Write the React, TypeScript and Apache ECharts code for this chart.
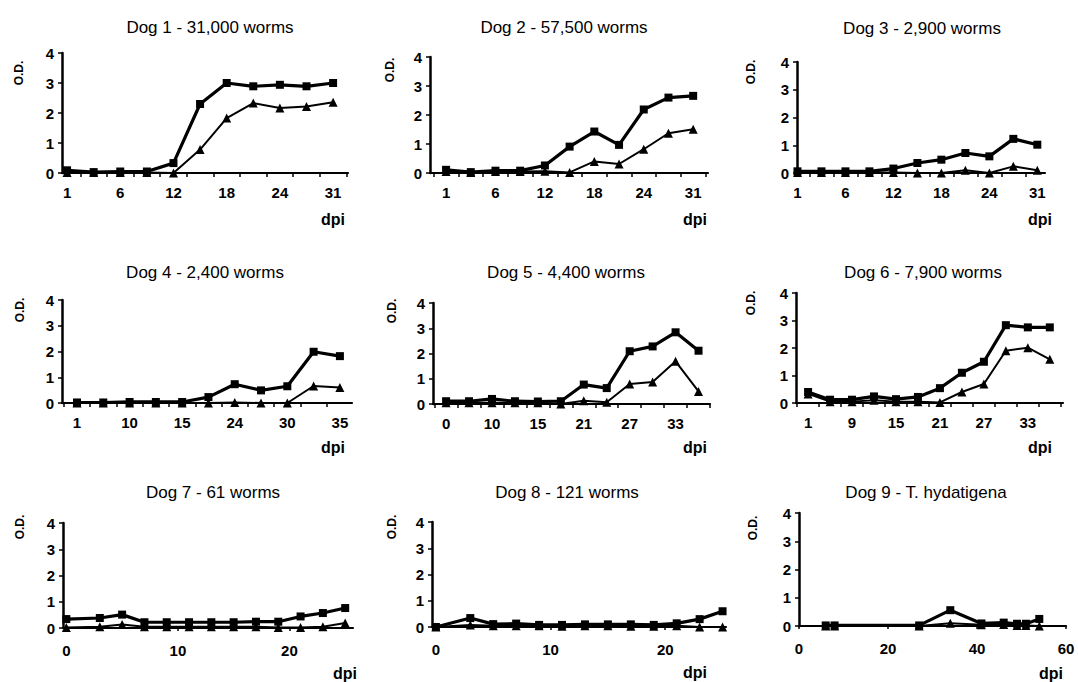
import React, { useEffect, useRef } from "react";
import * as echarts from "echarts";

// ---------- data ----------
const titles = [
  "Dog 1 - 31,000 worms",
  "Dog 2 - 57,500 worms",
  "Dog 3 - 2,900 worms",
  "Dog 4 - 2,400 worms",
  "Dog 5 - 4,400 worms",
  "Dog 6 - 7,900 worms",
  "Dog 7 - 61 worms",
  "Dog 8 - 121 worms",
  "Dog 9 - T. hydatigena",
];

// rows 1-2: sampling days (evenly spaced categories, every other one labelled)
const dog1Days = [1, 3, 6, 9, 12, 15, 18, 21, 24, 28, 31];
const dog1Square = [0.09, 0.03, 0.05, 0.05, 0.33, 2.3, 3.0, 2.89, 2.94, 2.89, 3.0];
const dog1Triangle = [0.02, 0.02, 0.02, 0.02, 0.0, 0.78, 1.83, 2.33, 2.17, 2.22, 2.36];

const dog2Days = [1, 3, 6, 9, 12, 15, 18, 21, 24, 28, 31];
const dog2Square = [0.11, 0.03, 0.08, 0.08, 0.26, 0.91, 1.43, 0.97, 2.19, 2.6, 2.66];
const dog2Triangle = [0.05, 0.02, 0.05, 0.05, 0.06, 0.02, 0.4, 0.31, 0.82, 1.37, 1.51];

const dog3Days = [1, 3, 6, 9, 12, 15, 18, 21, 24, 28, 31];
const dog3Square = [0.06, 0.06, 0.06, 0.06, 0.16, 0.36, 0.48, 0.72, 0.6, 1.23, 1.02];
const dog3Triangle = [0.02, 0.02, 0.02, 0.02, 0.02, 0.0, 0.0, 0.1, 0.0, 0.24, 0.1];

const dog4Days = [1, 5, 10, 13, 15, 20, 24, 27, 30, 33, 35];
const dog4Square = [0.02, 0.02, 0.04, 0.04, 0.04, 0.23, 0.73, 0.49, 0.65, 1.99, 1.82];
const dog4Triangle = [0.0, 0.0, 0.0, 0.0, 0.0, 0.0, 0.02, 0.0, 0.0, 0.66, 0.6];

const dog5Days = [0, 5, 10, 13, 15, 18, 21, 24, 27, 30, 33, 35];
const dog5Square = [0.11, 0.11, 0.2, 0.11, 0.1, 0.11, 0.77, 0.63, 2.09, 2.28, 2.84, 2.11];
const dog5Triangle = [0.05, 0.05, 0.05, 0.05, 0.05, 0.0, 0.13, 0.07, 0.79, 0.87, 1.69, 0.5];

const dog6Days = [1, 5, 9, 12, 15, 18, 21, 24, 27, 30, 33, 35];
const dog6Square = [0.4, 0.12, 0.12, 0.24, 0.14, 0.22, 0.54, 1.1, 1.5, 2.83, 2.75, 2.75];
const dog6Triangle = [0.33, 0.05, 0.05, 0.1, 0.05, 0.05, 0.02, 0.4, 0.69, 1.9, 2.01, 1.59];

// row 3: true day scale
const dog7Days = [0, 3, 5, 7, 9, 11, 13, 15, 17, 19, 21, 23, 25];
const dog7Square = [0.34, 0.38, 0.51, 0.22, 0.22, 0.22, 0.22, 0.22, 0.24, 0.24, 0.44, 0.57, 0.76];
const dog7Triangle = [0.02, 0.05, 0.13, 0.05, 0.05, 0.05, 0.05, 0.05, 0.05, 0.02, 0.02, 0.05, 0.19];

const dog8Days = [0, 3, 5, 7, 9, 11, 13, 15, 17, 19, 21, 23, 25];
const dog8Square = [0.0, 0.34, 0.11, 0.13, 0.08, 0.08, 0.1, 0.1, 0.1, 0.08, 0.14, 0.3, 0.6];
const dog8Triangle = [0.0, 0.08, 0.05, 0.05, 0.05, 0.03, 0.05, 0.05, 0.03, 0.03, 0.05, 0.0, 0.0];

const dog9Days = [6, 8, 27, 34, 41, 46, 49, 51, 54];
const dog9Square = [0.02, 0.02, 0.02, 0.56, 0.09, 0.12, 0.08, 0.08, 0.25];
const dog9Triangle = [0.0, 0.0, 0.0, 0.1, 0.04, 0.05, 0.02, 0.02, 0.0];

const yTicks = [0, 1, 2, 3, 4];
const row3Labels = [
  [0, 10, 20],
  [0, 10, 20],
  [0, 20, 40, 60],
];

const panels = [
  { days: dog1Days, sq: dog1Square, tr: dog1Triangle, kind: "index" },
  { days: dog2Days, sq: dog2Square, tr: dog2Triangle, kind: "index" },
  { days: dog3Days, sq: dog3Square, tr: dog3Triangle, kind: "index" },
  { days: dog4Days, sq: dog4Square, tr: dog4Triangle, kind: "index" },
  { days: dog5Days, sq: dog5Square, tr: dog5Triangle, kind: "index" },
  { days: dog6Days, sq: dog6Square, tr: dog6Triangle, kind: "index" },
  { days: dog7Days, sq: dog7Square, tr: dog7Triangle, kind: "value", labels: row3Labels[0] },
  { days: dog8Days, sq: dog8Square, tr: dog8Triangle, kind: "value", labels: row3Labels[1] },
  { days: dog9Days, sq: dog9Square, tr: dog9Triangle, kind: "value", labels: row3Labels[2] },
];

// ---------- layout (pixels) ----------
// [axis left x, axis right x, y of "4", y of "0"]
const frames = [
  [62, 348, 53, 173],
  [430, 708, 57, 173],
  [797, 1045, 62, 173],
  [62, 352, 300, 403],
  [433, 710, 303, 404],
  [796, 1063, 293, 403],
  [63, 353, 523, 628],
  [432, 726, 522, 627],
  [799, 1066, 513, 626],
];
const xRanges = [
  [-0.19, 10.56],
  [-0.65, 10.6],
  [-0.02, 10.32],
  [-0.57, 10.46],
  [-0.57, 11.5],
  [-0.55, 11.6],
  [-0.3, 25.7],
  [-0.34, 25.3],
  [0, 60],
];
const titlePos = [
  [210, 27], [564, 27], [922, 28],
  [205, 272], [566, 272], [923, 272],
  [213, 492], [567, 492], [926, 492],
];
const odPos = [
  [19, 73], [390, 70], [751, 72],
  [20, 310], [392, 311], [751, 303],
  [20, 527], [392, 527], [753, 528],
];
const dpiPos = [
  [333, 219], [695, 219], [1040, 219],
  [333, 447], [695, 447], [1040, 447],
  [345, 673], [695, 672], [1051, 673],
];

const W = 1078;
const H = 682;
const FONT = "'Liberation Sans', Arial, Helvetica, sans-serif";

function buildOption() {
  const grid: any[] = [];
  const xAxis: any[] = [];
  const yAxis: any[] = [];
  const series: any[] = [];
  const graphic: any[] = [];

  panels.forEach((p: any, i: number) => {
    const [l, r, t, b] = frames[i];
    grid.push({
      left: l,
      width: r - l,
      top: t,
      height: b - t,
      containLabel: false,
      outerBoundsMode: "none",
    });

    const isIndex = p.kind === "index";
    const n = p.days.length;
    const labelVals = isIndex
      ? p.days.map((_: number, k: number) => k).filter((k: number) => k % 2 === 0)
      : p.labels;
    const tickVals = isIndex
      ? Array.from({ length: n + 1 }, (_, k) => k - 0.5).filter(
          (v) => v >= xRanges[i][0] && v <= xRanges[i][1]
        )
      : p.labels;

    xAxis.push({
      type: "value",
      gridIndex: i,
      min: xRanges[i][0],
      max: xRanges[i][1],
      splitLine: { show: false },
      axisLine: { show: true, onZero: false, lineStyle: { color: "#000", width: 2.2 } },
      axisTick: {
        show: true,
        customValues: tickVals,
        length: isIndex ? 4 : 3,
        lineStyle: { color: "#000", width: 1.5 },
      },
      axisLabel: {
        customValues: labelVals,
        formatter: (v: number) => (isIndex ? String(p.days[Math.round(v)]) : String(v)),
        color: "#000",
        fontSize: 15,
        fontWeight: "bold",
        fontFamily: FONT,
        margin: isIndex ? 12 : 15,
      },
    });

    yAxis.push({
      type: "value",
      gridIndex: i,
      min: 0,
      max: 4,
      interval: 1,
      splitLine: { show: false },
      axisLine: { show: true, onZero: false, lineStyle: { color: "#000", width: 2.5 } },
      axisTick: { show: true, length: 4, lineStyle: { color: "#000", width: 1.5 } },
      axisLabel: {
        customValues: yTicks,
        color: "#000",
        fontSize: 15,
        fontWeight: "bold",
        fontFamily: FONT,
        margin: 8,
      },
    });

    const xOf = (k: number) => (isIndex ? k : p.days[k]);

    series.push({
      type: "line",
      xAxisIndex: i,
      yAxisIndex: i,
      data: p.tr.map((v: number, k: number) => [xOf(k), v]),
      symbol: "triangle",
      symbolSize: 9,
      showSymbol: true,
      lineStyle: { color: "#000", width: 2 },
      itemStyle: { color: "#000" },
      z: 3,
    });
    series.push({
      type: "line",
      xAxisIndex: i,
      yAxisIndex: i,
      data: p.sq.map((v: number, k: number) => [xOf(k), v]),
      symbol: "rect",
      symbolSize: 8,
      showSymbol: true,
      lineStyle: { color: "#000", width: 3.2 },
      itemStyle: { color: "#000" },
      z: 4,
    });

    graphic.push({
      type: "text",
      x: titlePos[i][0],
      y: titlePos[i][1],
      style: {
        text: titles[i],
        fill: "#000",
        fontSize: 17,
        fontFamily: FONT,
        align: "center",
        verticalAlign: "middle",
      },
    });
    graphic.push({
      type: "text",
      x: odPos[i][0],
      y: odPos[i][1],
      rotation: Math.PI / 2,
      style: {
        text: "O.D.",
        fill: "#000",
        fontSize: 12,
        fontWeight: "bold",
        fontFamily: FONT,
        align: "center",
        verticalAlign: "middle",
      },
    });
    graphic.push({
      type: "text",
      x: dpiPos[i][0],
      y: dpiPos[i][1],
      style: {
        text: "dpi",
        fill: "#000",
        fontSize: 16,
        fontWeight: "bold",
        fontFamily: FONT,
        align: "center",
        verticalAlign: "middle",
      },
    });
  });

  return {
    animation: false,
    backgroundColor: "#fff",
    grid,
    xAxis,
    yAxis,
    series,
    graphic,
  };
}

export default function App() {
  const ref = useRef<HTMLDivElement>(null);
  useEffect(() => {
    if (!ref.current) return;
    const chart = echarts.init(ref.current, undefined, { renderer: "svg", width: W, height: H });
    chart.setOption(buildOption() as any);
    return () => chart.dispose();
  }, []);
  return (
    <div
      ref={ref}
      style={{ position: "fixed", left: 0, top: 0, width: W, height: H, background: "#fff" }}
    />
  );
}
